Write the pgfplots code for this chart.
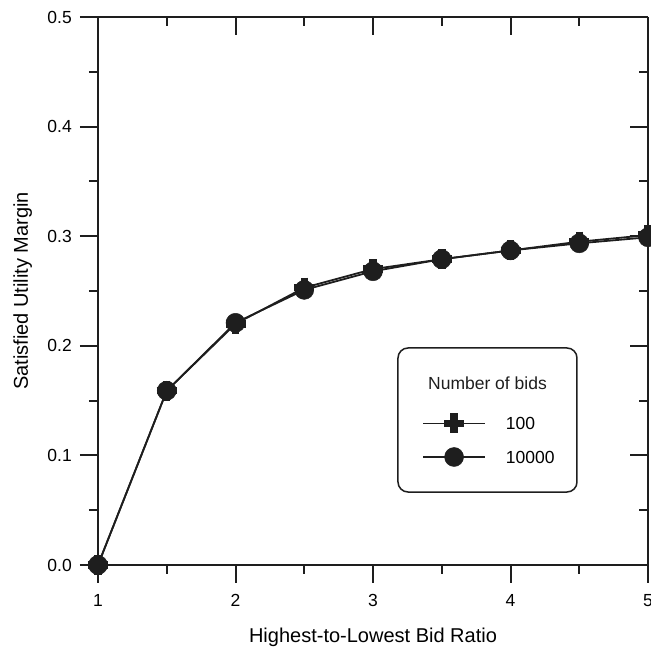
\documentclass[border=0pt]{standalone}
\usepackage{pgfplots}
\pgfplotsset{compat=1.18}
\usepackage{fontspec}
\setmainfont{Liberation Sans}
\definecolor{ink}{HTML}{1E1E1E}

% Margin for 100 and 10000 bids against the bid ratio
\pgfplotstableread{
ratio  margin
1.0    0.000
1.5    0.159
2.0    0.220
2.5    0.253
3.0    0.270
3.5    0.279
4.0    0.287
4.5    0.295
5.0    0.301
}\bidsHundred
\pgfplotstableread{
ratio  margin
1.0    0.000
1.5    0.159
2.0    0.221
2.5    0.251
3.0    0.268
3.5    0.279
4.0    0.287
4.5    0.2935
5.0    0.299
}\bidsTenThousand

\pgfplotsset{
  frame/.style={
    scale only axis, width=550pt, height=548pt,
    xmin=1, xmax=5, ymin=0, ymax=0.5,
    xtick={1,2,3,4,5}, ytick={0,0.1,0.2,0.3,0.4,0.5},
    minor x tick num=1, minor y tick num=1,
    major tick length=18pt, minor tick length=9pt,
    every tick/.style={ink, line width=2pt},
    axis line style={ink, line width=2pt},
    clip=false,
  },
}

\begin{document}
\begin{tikzpicture}[font=\fontsize{17.5}{21}\selectfont]
% top and right: inward ticks, no labels
\begin{axis}[frame,
  axis x line*=top, axis y line*=right, tick align=inside,
  xticklabels={}, yticklabels={}]
\end{axis}
% bottom and left: outward ticks, labels, data
\begin{axis}[frame, name=ax,
  axis x line*=bottom, axis y line*=left, tick align=outside,
  /pgf/number format/assume math mode=true,
  yticklabel style={/pgf/number format/fixed, /pgf/number format/fixed zerofill,
    /pgf/number format/precision=1, anchor=east, inner sep=0pt, xshift=-8pt},
  xticklabel style={anchor=north, inner sep=0pt, yshift=-11pt},
  xlabel={Highest-to-Lowest Bid Ratio},
  ylabel={Satisfied Utility Margin},
  xlabel style={font=\fontsize{20}{24}\selectfont, at={(axis description cs:0.5,-0.1423)}, anchor=base},
  ylabel style={font=\fontsize{20}{24}\selectfont, at={(axis description cs:-0.1273,0.5)}, anchor=base},
  legend image code/.code={\draw[mark repeat=2, mark phase=2] plot coordinates {(0pt,0pt) (31pt,0pt) (62pt,0pt)};},
  legend cell align=left,
  legend style={draw=none, fill=none, inner sep=0pt, at={(0.589,0.2281)}, anchor=west,
    row sep=14pt, column sep=20pt,
    nodes={inner sep=0pt, text height=12.5pt, text depth=0pt}},
]
\addplot[ink, line width=1.8pt, mark=+, mark size=10pt,
  mark options={line width=7.5pt}] table[x=ratio, y=margin] {\bidsHundred};
\addlegendentry{100}
\addplot[ink, line width=1.8pt, mark=*, mark size=9.5pt,
  mark options={fill=ink, line width=0.5pt}] table[x=ratio, y=margin] {\bidsTenThousand};
\addlegendentry{10000}
\draw[ink, line width=1.5pt, rounded corners=10pt]
  (axis cs:3.1818,0.0666) rectangle (axis cs:4.4836,0.198);
\node[ink, anchor=center] at (axis cs:3.8327,0.1661) {Number of bids};
\end{axis}
\pgfresetboundingbox
\useasboundingbox ([shift={(-98pt,-84pt)}]ax.south west) rectangle ([shift={(3pt,17pt)}]ax.north east);
\end{tikzpicture}
\end{document}
